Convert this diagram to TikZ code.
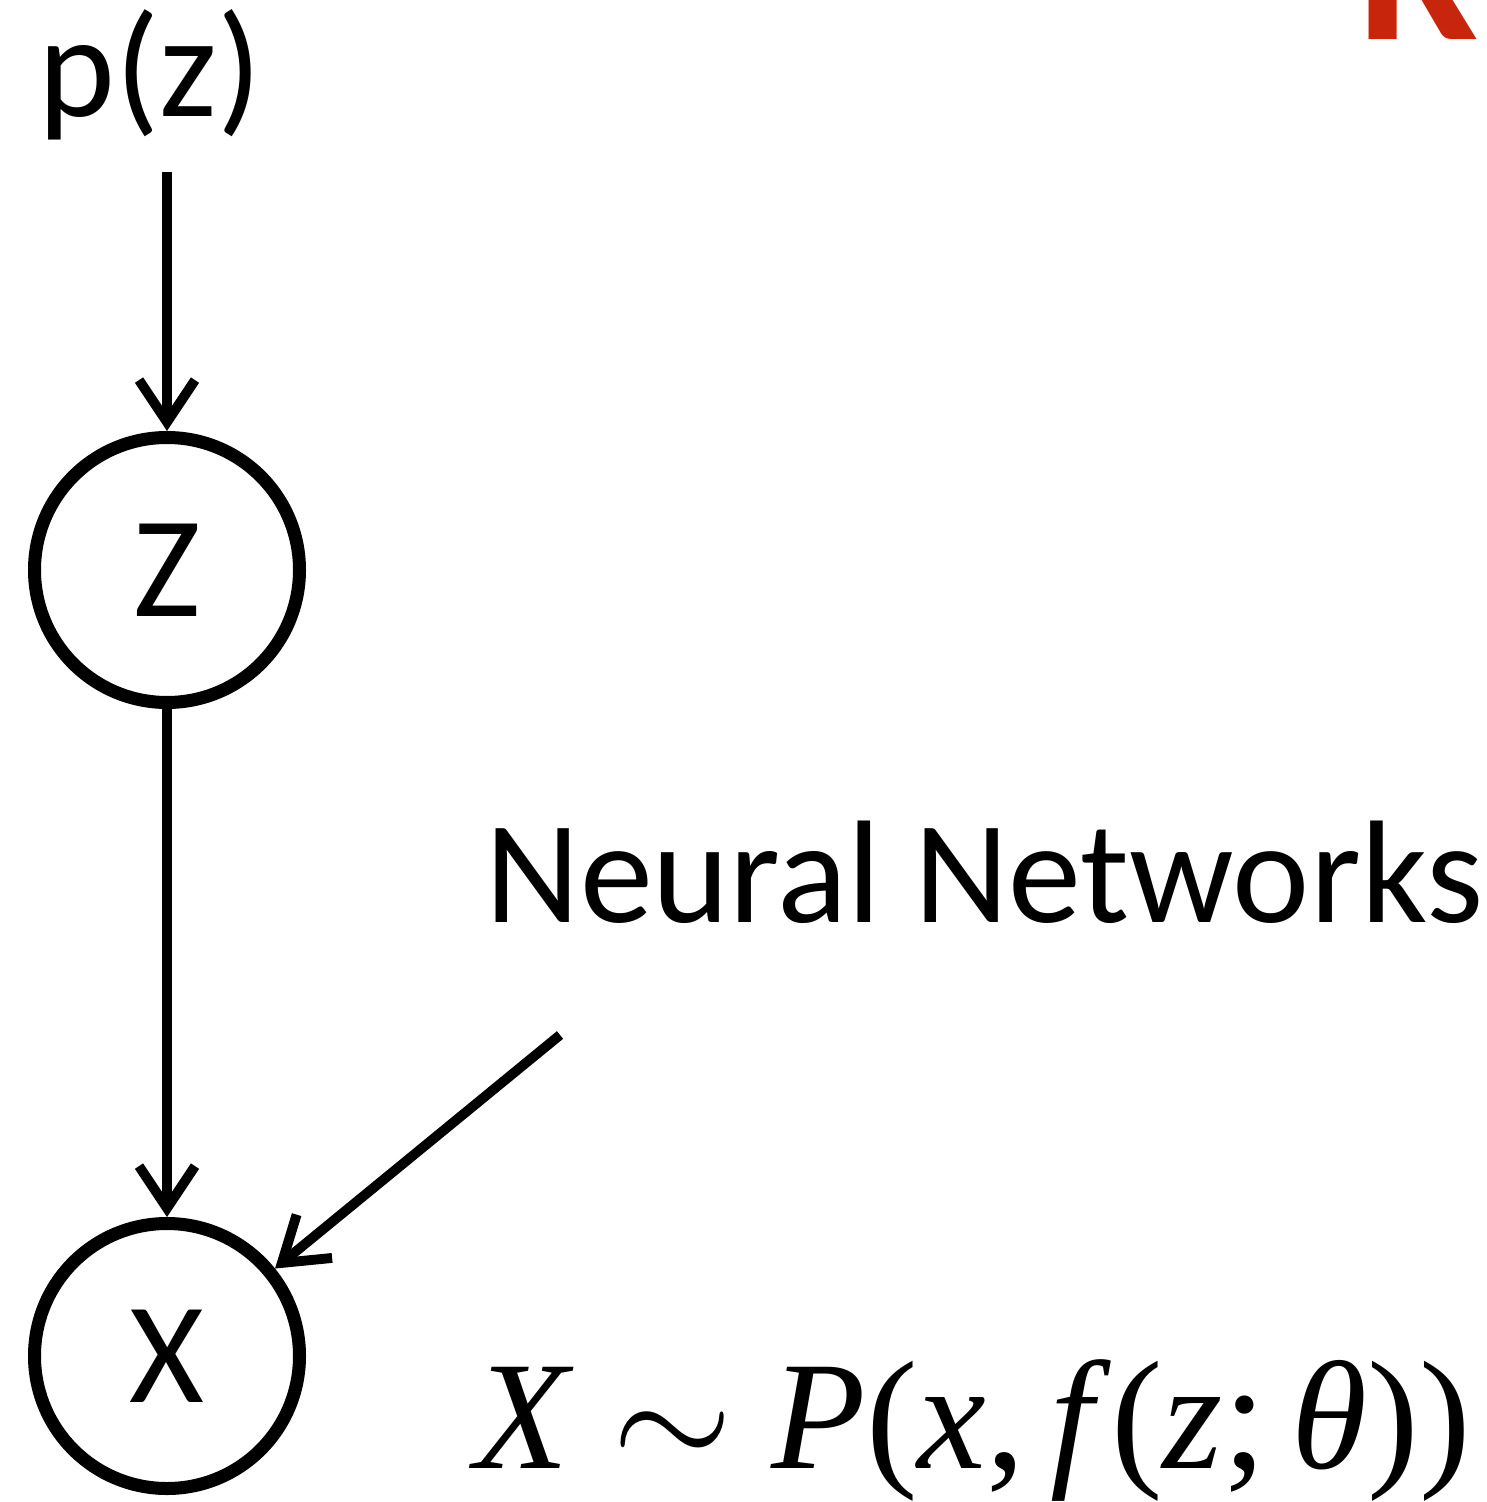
\documentclass[tikz,border=0pt]{standalone}
\usepackage{mathptmx}
\usepackage[no-math]{fontspec}
\setsansfont{Carlito}
\newfontfamily\timesfont{Liberation Serif}
\usetikzlibrary{arrows.meta}
\definecolor{titlered}{RGB}{200,38,12}

\begin{document}
\begin{tikzpicture}[
    latent/.style={circle, draw, line width=3.7pt, minimum size=2.65cm, inner sep=0pt, font=\sffamily\fontsize{41}{48}\selectfont},
    labeltext/.style={font=\sffamily\fontsize{41.6}{48}\selectfont, inner sep=0pt},
    link/.style={line width=2.8pt, -{Straight Barb[length=4.2mm, width=5.6mm]}}
]
    \useasboundingbox (0, 0) rectangle (14.86, -15.02);

    % Title, cut by the frame
    \begin{scope}
        \clip (0, 0) rectangle (14.86, -15.02);
        \node[anchor=base west, inner sep=0pt, text=titlered, font=\sffamily\bfseries\fontsize{62}{66}\selectfont] (title) at (13.56, -0.40) {R};
    \end{scope}

    % Prior
    \node[labeltext, anchor=base] (prior) at (1.50, -1.17) {p(z)};

    % Latent and observed
    \node[latent] (z) at (1.67, -5.70) {Z};
    \node[latent] (x) at (1.67, -13.56) {X};

    % Network label
    \node[labeltext, anchor=base west] (nn) at (4.85, -9.22) {Neural Networks};
    \coordinate (nnstart) at (5.60, -10.35);

    % Model
    \node[anchor=base west, inner sep=0pt, font=\timesfont\fontsize{44}{50}\selectfont] (model) at (4.74, -14.68)
        {\textit{X} $\sim$ \textit{P}(\textit{x},\,\textit{f}(\textit{z};\,\textit{θ}))};

    % Edges
    \draw[link] (1.67, -1.72) -- (z.north);
    \draw[link] (z.south) -- (x.north);
    \draw[link] (nnstart) -- (x.39);
\end{tikzpicture}
\end{document}
